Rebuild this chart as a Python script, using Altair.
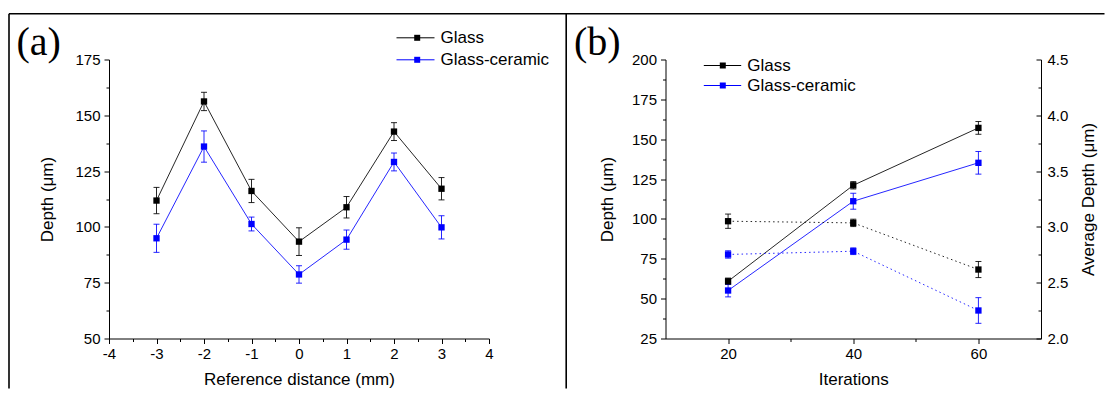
import altair as alt
import pandas as pd

FONT = "Liberation Sans"
SERIF = "Liberation Serif"

series = ["Glass", "Glass-ceramic"]
series_colors = ["#000000", "#0000ff"]

# ---- panel (a): depth vs reference distance
ref_distance = [-3, -2, -1, 0, 1, 2, 3]
glass_depth_a = [111.8, 156.2, 116.1, 93.4, 108.8, 142.7, 117.1]
glass_err_a = [5.9, 4.1, 5.2, 6.2, 4.8, 4.0, 5.0]
gc_depth_a = [94.9, 136.0, 101.3, 78.7, 94.3, 129.1, 99.8]
gc_err_a = [6.3, 7.0, 3.1, 3.9, 4.3, 4.0, 5.2]

x_ticks_a = [-4, -3, -2, -1, 0, 1, 2, 3, 4]
x_minor_a = [-3.5, -2.5, -1.5, -0.5, 0.5, 1.5, 2.5, 3.5]
y_ticks_a = [50, 75, 100, 125, 150, 175]
y_minor_a = [62.5, 87.5, 112.5, 137.5, 162.5]

# ---- panel (b): depth and average depth vs iterations
iterations = [20, 40, 60]
glass_depth_b = [60.9, 121.1, 157.1]
glass_err_b = [2.0, 2.3, 4.0]
gc_depth_b = [55.1, 111.1, 135.2]
gc_err_b = [4.0, 5.0, 7.1]
glass_avg_b = [3.051, 3.036, 2.618]
glass_avg_err_b = [0.064, 0.033, 0.072]
gc_avg_b = [2.753, 2.782, 2.251]
gc_avg_err_b = [0.033, 0.030, 0.115]

x_ticks_b = [20, 40, 60]
x_minor_b = [30, 50]
y_ticks_b = [25, 50, 75, 100, 125, 150, 175, 200]
y_minor_b = [37.5, 62.5, 87.5, 112.5, 137.5, 162.5, 187.5]
y2_ticks_b = [2.0, 2.5, 3.0, 3.5, 4.0, 4.5]
y2_minor_b = [2.25, 2.75, 3.25, 3.75, 4.25]


def frame(xs, name, vals, errs):
    return pd.DataFrame({"x": xs, "y": vals, "err": errs, "series": name})


df_a = pd.concat([frame(ref_distance, series[0], glass_depth_a, glass_err_a),
                  frame(ref_distance, series[1], gc_depth_a, gc_err_a)])
df_b1 = pd.concat([frame(iterations, series[0], glass_depth_b, glass_err_b),
                   frame(iterations, series[1], gc_depth_b, gc_err_b)])
df_b2 = pd.concat([frame(iterations, series[0], glass_avg_b, glass_avg_err_b),
                   frame(iterations, series[1], gc_avg_b, gc_avg_err_b)])

color = alt.Color("series:N", scale=alt.Scale(domain=series, range=series_colors), legend=None)

PLAIN = "datum.value + ''"


def axis(orient, values, size, labels=True, domain=True, title=None, **kw):
    return alt.Axis(orient=orient, values=values, tickSize=size, labels=labels,
                    domain=domain, ticks=True, title=title, grid=False,
                    labelFlush=False, labelOverlap=False, **kw)


def err_layers(base, xscale, yscale, x_axis, y_axis):
    rule = base.mark_rule(strokeWidth=1, opacity=0.85).encode(
        x=alt.X("x:Q", scale=xscale, axis=x_axis),
        y=alt.Y("lo:Q", scale=yscale, axis=y_axis),
        y2="hi:Q", color=color)
    caps = []
    for f in ["lo", "hi"]:
        caps.append(base.mark_rule(strokeWidth=1, xOffset=-3, x2Offset=3, opacity=0.85).encode(
            x=alt.X("x:Q", axis=None), x2="x:Q",
            y=alt.Y(f + ":Q", axis=None), color=color))
    return [rule] + caps


one = alt.Chart(pd.DataFrame({"k": [0]}))


def legend_marks(x0, x1, xs, xt, ys):
    out = []
    for i, name in enumerate(series):
        out.append(one.mark_rule(color=series_colors[i], strokeWidth=1).encode(
            x=alt.value(x0), x2=alt.value(x1), y=alt.value(ys[i])))
        out.append(one.mark_square(size=36, color=series_colors[i], opacity=1).encode(
            x=alt.value(xs), y=alt.value(ys[i])))
        out.append(one.mark_text(align="left", baseline="middle", font=FONT, fontSize=17,
                                 color="black").encode(
            x=alt.value(xt), y=alt.value(ys[i]), text=alt.value(name)))
    return out


def panel_label(txt, x, y):
    return one.mark_text(align="left", baseline="alphabetic", font=SERIF, fontSize=40,
                         color="black").encode(x=alt.value(x), y=alt.value(y), text=alt.value(txt))


# ================= panel (a)
WA, HA = 380, 279
xa = alt.Scale(domain=[-4, 4], nice=False, zero=False)
ya = alt.Scale(domain=[50, 175], nice=False, zero=False)
base_a = alt.Chart(df_a).transform_calculate(lo="datum.y - datum.err", hi="datum.y + datum.err")

line_a = base_a.mark_line(strokeWidth=1, opacity=0.85).encode(
    x=alt.X("x:Q", scale=xa, axis=axis("bottom", x_ticks_a, 5, title="Reference distance (mm)",
                                       labelExpr=PLAIN, labelPadding=3, titlePadding=10)),
    y=alt.Y("y:Q", scale=ya, axis=axis("left", y_ticks_a, 5, title="Depth (\u03bcm)",
                                       labelExpr=PLAIN, labelPadding=4, titlePadding=18)),
    color=color)
errs_a = err_layers(base_a, xa, ya,
                    axis("bottom", x_minor_a, 3, labels=False, domain=False),
                    axis("left", y_minor_a, 3, labels=False, domain=False))
pts_a = base_a.mark_square(size=40, opacity=1).encode(
    x=alt.X("x:Q", axis=None), y=alt.Y("y:Q", axis=None), color=color)

borders = [
    one.mark_rule(color="black", strokeWidth=1.6).encode(
        x=alt.value(-100), x2=alt.value(995.5), y=alt.value(-45.7)),
    one.mark_rule(color="black", strokeWidth=1.6).encode(
        x=alt.value(-100), y=alt.value(-45.7), y2=alt.value(329)),
    one.mark_rule(color="black", strokeWidth=1.6).encode(
        x=alt.value(457.2), y=alt.value(-45.7), y2=alt.value(329)),
]

panel_a = alt.layer(
    line_a, *errs_a, pts_a, *borders,
    *legend_marks(287.5, 325.5, 308.2, 331.5, [-21.7, 0.3]),
    panel_label("(a)", -92.5, -4.4),
).resolve_axis(x="independent", y="independent").properties(width=WA, height=HA)

# ================= panel (b)
WB, HB = 375.5, 279
xb = alt.Scale(domain=[10, 70], nice=False, zero=False)
yb = alt.Scale(domain=[25, 200], nice=False, zero=False)
yb2 = alt.Scale(domain=[2.0, 4.5], nice=False, zero=False)
base_b1 = alt.Chart(df_b1).transform_calculate(lo="datum.y - datum.err", hi="datum.y + datum.err")
base_b2 = alt.Chart(df_b2).transform_calculate(lo="datum.y - datum.err", hi="datum.y + datum.err")

line_b1 = base_b1.mark_line(strokeWidth=1, opacity=0.85).encode(
    x=alt.X("x:Q", scale=xb, axis=axis("bottom", x_ticks_b, 5, title="Iterations",
                                       labelExpr=PLAIN, labelPadding=3, titlePadding=10)),
    y=alt.Y("y:Q", scale=yb, axis=axis("left", y_ticks_b, 5, title="Depth (\u03bcm)",
                                       labelExpr=PLAIN, labelPadding=4, titlePadding=15)),
    color=color)
errs_b1 = err_layers(base_b1, xb, yb,
                     axis("bottom", x_minor_b, 3, labels=False, domain=False),
                     axis("left", y_minor_b, 3, labels=False, domain=False))
pts_b1 = base_b1.mark_square(size=40, opacity=1).encode(
    x=alt.X("x:Q", axis=None), y=alt.Y("y:Q", axis=None), color=color)
left_group = alt.layer(line_b1, *errs_b1, pts_b1).resolve_axis(x="independent", y="independent")

line_b2 = base_b2.mark_line(strokeWidth=1, strokeDash=[1.5, 3], opacity=0.85).encode(
    x=alt.X("x:Q", scale=xb, axis=None),
    y=alt.Y("y:Q", scale=yb2, axis=alt.Axis(orient="right", values=y2_ticks_b, ticks=False,
                                            tickSize=0, labelPadding=6, format=".1f",
                                            title="Average Depth (\u03bcm)", titleAngle=270,
                                            titleBaseline="top", titlePadding=13, grid=False,
                                            labelFlush=False, labelOverlap=False)),
    color=color)
rule_b2 = base_b2.mark_rule(strokeWidth=1, opacity=0.85).encode(
    x=alt.X("x:Q", axis=None),
    y=alt.Y("lo:Q", scale=yb2, axis=axis("left", y2_ticks_b, 5, labels=False, domain=False,
                                         offset=-WB)),
    y2="hi:Q", color=color)
caps_b2 = []
for f in ["lo", "hi"]:
    caps_b2.append(base_b2.mark_rule(strokeWidth=1, xOffset=-3, x2Offset=3, opacity=0.85).encode(
        x=alt.X("x:Q", axis=None), x2="x:Q",
        y=alt.Y(f + ":Q", axis=axis("left", y2_minor_b, 3, labels=False, domain=False,
                                    offset=-WB) if f == "lo" else None),
        color=color))
pts_b2 = base_b2.mark_square(size=40, opacity=1).encode(
    x=alt.X("x:Q", axis=None), y=alt.Y("y:Q", axis=None), color=color)
right_group = alt.layer(line_b2, rule_b2, *caps_b2, pts_b2).resolve_axis(y="independent")

panel_b = alt.layer(
    left_group, right_group,
    *legend_marks(38.3, 75.7, 57.3, 81.7, [6, 26]),
    panel_label("(b)", -91.5, -4.4),
).resolve_scale(y="independent").resolve_axis(x="independent", y="independent").properties(
    width=WB, height=HB)

chart = alt.hconcat(panel_a, panel_b, spacing=176.5, bounds="flush").properties(
    padding={"left": 8, "top": 12.5, "right": 0, "bottom": 0},
    background="white",
).configure_view(stroke=None).configure_axis(
    domainColor="black", domainWidth=1, tickColor="black", tickWidth=1,
    labelColor="black", titleColor="black", labelFont=FONT, titleFont=FONT,
    labelFontSize=15, titleFontSize=17, titleFontWeight="normal",
)

chart.save("out.html", embed_options={"renderer": "svg", "actions": False})
